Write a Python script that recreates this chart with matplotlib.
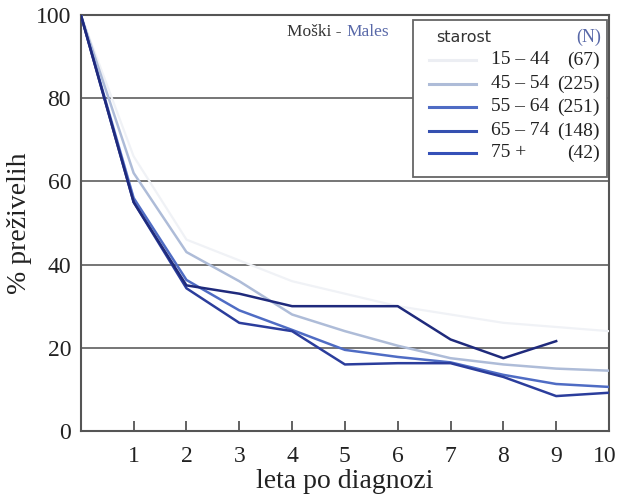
import numpy as np
import matplotlib.pyplot as plt
import matplotlib.transforms as mtransforms
from matplotlib.patches import Rectangle

plt.rcParams['font.family'] = ['Liberation Serif', 'DejaVu Serif']

years = [0, 1, 2, 3, 4, 5, 6, 7, 8, 9, 10]
ages = ['15 – 44', '45 – 54', '55 – 64', '65 – 74', '75 +']
counts = ['(67)', '(225)', '(251)', '(148)', '(42)']

surv_15_44 = [100, 66, 46, 41, 36, 33, 30, 28, 26, 25, 24]
surv_45_54 = [100, 62, 43, 36, 28, 24, 20.5, 17.5, 16, 15, 14.5]
surv_55_64 = [100, 56, 36.3, 29, 24.3, 19.5, 17.8, 16.5, 13.5, 11.3, 10.6]
surv_65_74 = [100, 55, 34.3, 26, 24, 16, 16.3, 16.3, 13, 8.4, 9.2]
surv_75 = [100, 55, 35, 33, 30, 30, 30, 22, 17.5, 21.6]

series = [surv_15_44, surv_45_54, surv_55_64, surv_65_74, surv_75]
colors = ['#f0f2f6', '#aebcd8', '#4f6cc4', '#2b3d9c', '#1f2a7c']
widths = [1.6, 1.8, 1.8, 1.8, 1.8]

fig = plt.figure(figsize=(6.17, 4.96), dpi=100)
ax = fig.add_axes([0.131, 0.131, 0.856, 0.839])

for yv in [20, 40, 60, 80, 100]:
    ax.axhline(yv, color='#6a6a6a', lw=1.3, zorder=1)

for s, c, w in zip(series, colors, widths):
    ax.plot(years[:len(s)], s, color=c, lw=w, zorder=3)

ax.set_xlim(0, 10)
ax.set_ylim(0, 100)
ax.set_xticks(range(1, 11))
ax.set_yticks(range(0, 101, 20))
ax.tick_params(axis='x', direction='in', length=7, width=1.3, color='#555555',
               labelsize=17, pad=11, labelcolor='#222222')
ax.tick_params(axis='y', length=0, labelsize=17, pad=7, labelcolor='#222222')
for sp in ax.spines.values():
    sp.set_color('#555555')
    sp.set_linewidth(1.5)

# keep the last tick label inside the picture
last = ax.get_xticklabels()[-1]
last.set_transform(last.get_transform() +
                   mtransforms.ScaledTranslation(-4 / 100, 0, fig.dpi_scale_trans))

ax.set_xlabel('leta po diagnozi', fontsize=20, labelpad=1, color='#222222')
ax.set_ylabel('% preživelih', fontsize=20, labelpad=3, color='#222222')

# title text
ax.text(0.39, 0.958, 'Moški - ', transform=ax.transAxes, fontsize=12.5,
        ha='left', va='center', color='#333333')
ax.text(0.503, 0.958, 'Males', transform=ax.transAxes, fontsize=12.5,
        ha='left', va='center', color='#5868a8')

# legend box
ax.add_patch(Rectangle((0.628, 0.611), 0.368, 0.377, transform=ax.transAxes,
                       facecolor='white', edgecolor='#666666', lw=1.3, zorder=5))
ax.text(0.672, 0.945, 'starost', transform=ax.transAxes, fontsize=11.5,
        family='DejaVu Sans', ha='left', va='center', color='#333333', zorder=6)
ax.text(0.985, 0.945, '(N)', transform=ax.transAxes, fontsize=13,
        ha='right', va='center', color='#5868a8', zorder=6)
legend_colors = ['#eceef3', '#aebcd8', '#4f6cc4', '#3550b0', '#3550b8']
row_y = [(431 - p) / 416 for p in [60, 84, 107, 131, 153]]
for yy, lab, n, c in zip(row_y, ages, counts, legend_colors):
    ax.plot([0.66, 0.749], [yy, yy], transform=ax.transAxes, color=c,
            lw=2.2, zorder=6)
    ax.text(0.777, yy, lab, transform=ax.transAxes, fontsize=14,
            ha='left', va='center', color='#222222', zorder=6)
    ax.text(0.982, yy, n, transform=ax.transAxes, fontsize=14,
            ha='right', va='center', color='#222222', zorder=6)

fig.savefig('out.png', dpi=100)
